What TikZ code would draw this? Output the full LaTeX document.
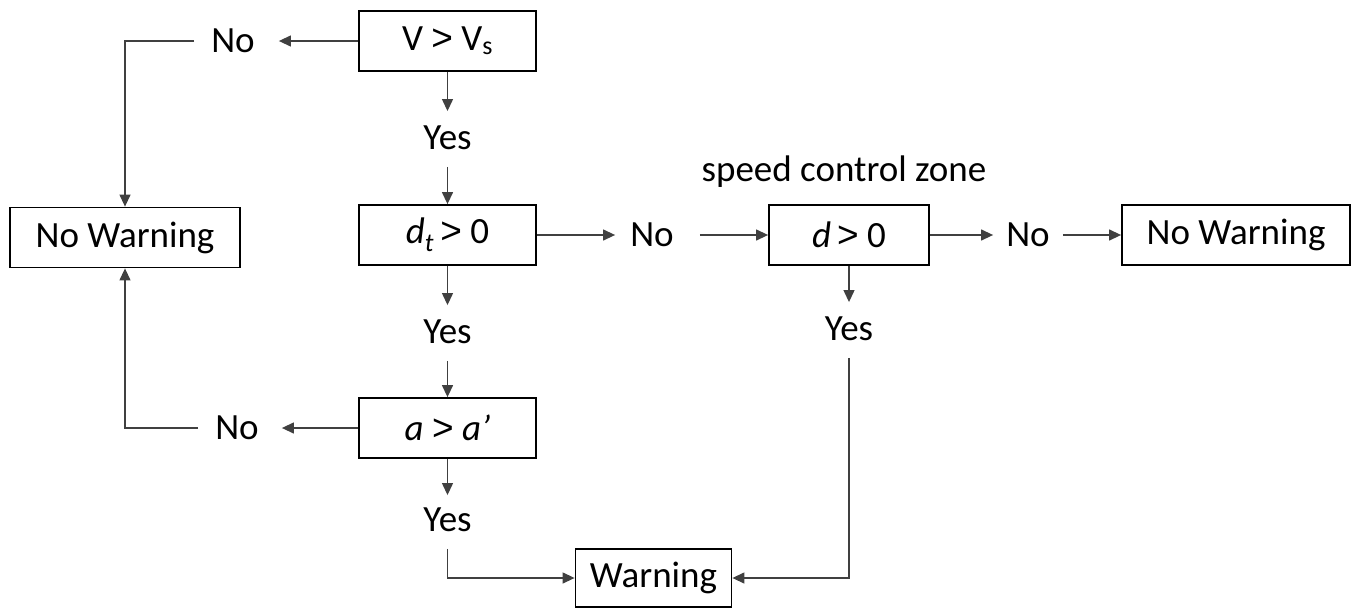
\documentclass[tikz,border=0pt]{standalone}
\usepackage{fontspec}
\setmainfont{Carlito}
\newfontfamily\symf{Liberation Sans}
\usetikzlibrary{arrows.meta}
\newcommand{\gtsym}{{\symf >}}
\begin{document}
\begin{tikzpicture}[x=1pt,y=-1pt,
  box/.style={draw=black,line width=1.8pt,minimum height=60pt,inner sep=0pt,font=\fontsize{37}{44}\selectfont},
  lbl/.style={inner sep=0pt,text height=23.5pt,text depth=0pt,font=\fontsize{37}{44}\selectfont},
  conn/.style={draw=black!75,line width=1.3pt},
  arr/.style={conn,-{Triangle[length=12pt,width=11pt]}}]
\useasboundingbox (0,0) rectangle (1358,608);
% boxes
\node[box,minimum width=177pt] (v) at (447.5,41) {V \gtsym{} V\textsubscript{s}};
\node[box,minimum width=177pt] (dt) at (447.5,235) {\textit{d}\textsubscript{\textit{t}}\,\gtsym{} 0};
\node[box,minimum width=177pt] (aa) at (447.5,428) {\textit{a} \gtsym{} \textit{a’}};
\node[box,minimum width=230pt] (nwl) at (125,237.5) {No Warning};
\node[box,minimum width=160pt] (d) at (849,235) {\textit{d}\,\gtsym{} 0};
\node[box,minimum width=228pt] (nwr) at (1236,235) {No Warning};
\node[box,minimum width=156pt,minimum height=58pt] (warn) at (653.5,578) {Warning};
% labels
\node[lbl] (yes1) at (447.5,138) {Yes};
\node[lbl] (yes2) at (447.5,332) {Yes};
\node[lbl] (yes3) at (447.5,520) {Yes};
\node[lbl] (yes4) at (849,329) {Yes};
\node[lbl] (no1) at (233,41) {No};
\node[lbl] (no2) at (237,428) {No};
\node[lbl] (no3) at (652,235) {No};
\node[lbl] (no4) at (1028,235) {No};
\node[lbl] (zone) at (844,170) {speed control zone};
% connectors
\draw[arr] (v.south) -- ([yshift=15pt]yes1.north);
\draw[arr] ([yshift=-17pt]yes1.south) -- (dt.north);
\draw[arr] (dt.south) -- ([yshift=15pt]yes2.north);
\draw[arr] ([yshift=-17pt]yes2.south) -- (aa.north);
\draw[arr] (aa.south) -- ([yshift=13pt]yes3.north);
\draw[arr] ([yshift=-17pt]yes3.south) |- (warn.west);
\draw[arr] (d.south) -- ([yshift=15pt]yes4.north);
\draw[arr] ([yshift=-17pt]yes4.south) |- (warn.east);
\draw[arr] (v.west) -- ([xshift=24pt]no1.east);
\draw[arr] ([xshift=-17pt]no1.west) -| (nwl.north);
\draw[arr] (aa.west) -- ([xshift=23pt]no2.east);
\draw[arr] ([xshift=-17pt]no2.west) -| (nwl.south);
\draw[arr] (dt.east) -- ([xshift=-15pt]no3.west);
\draw[arr] ([xshift=26pt]no3.east) -- (d.west);
\draw[arr] (d.east) -- ([xshift=-13pt]no4.west);
\draw[arr] ([xshift=13pt]no4.east) -- (nwr.west);
\end{tikzpicture}
\end{document}
